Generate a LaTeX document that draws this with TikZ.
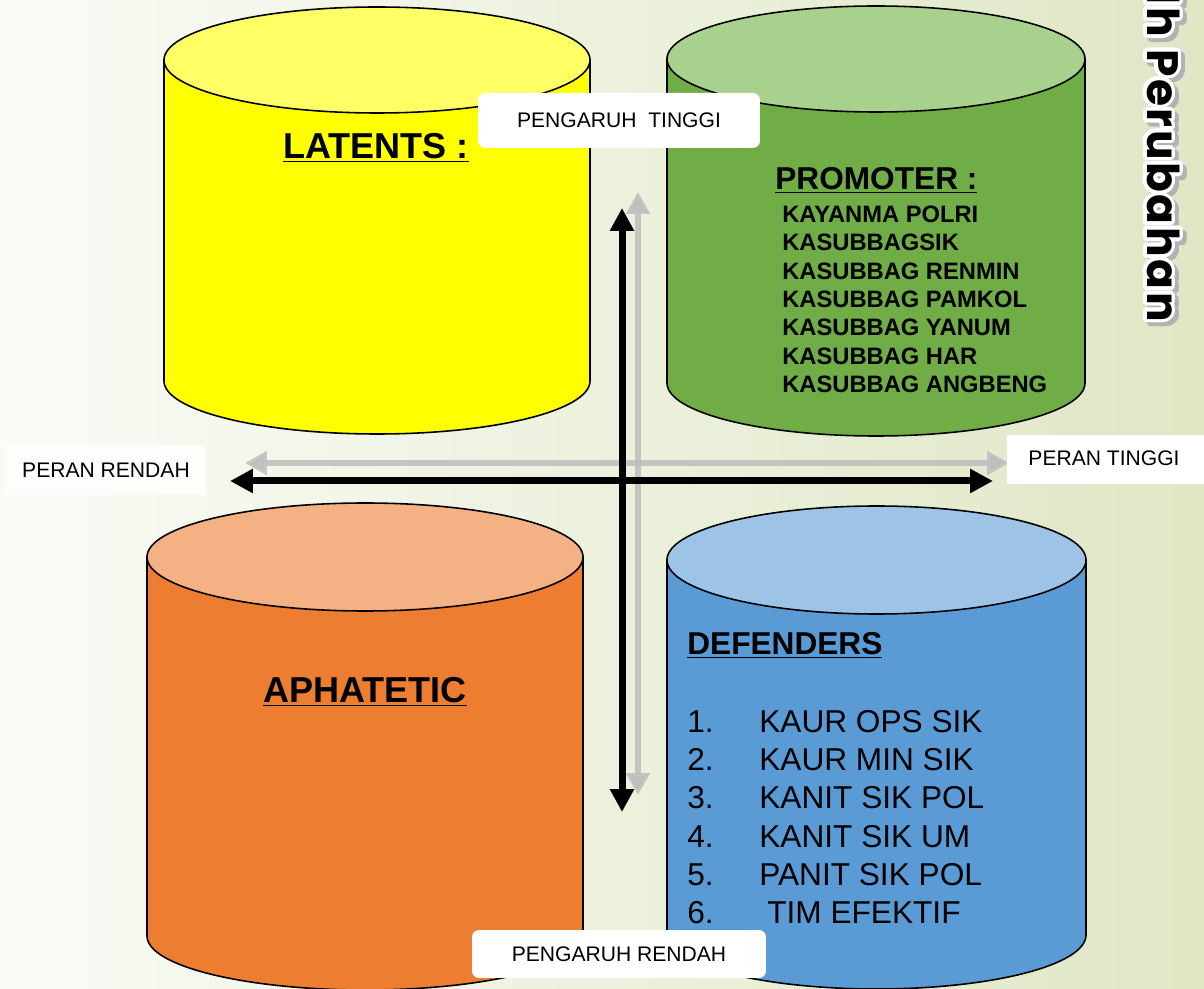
\documentclass[tikz,border=0pt]{standalone}
\usepackage{fontspec}
\usepackage{contour}
\setmainfont{Liberation Sans}
\newfontfamily\judulfont[LetterSpace=6.0]{Poppins}
\contourlength{2.2pt}
\usetikzlibrary{arrows.meta}

\definecolor{latarkiri}{HTML}{FAFBF6}
\definecolor{latarkanan}{HTML}{DFE7C5}
\definecolor{kuning}{HTML}{FFFF00}
\definecolor{kuningatas}{HTML}{FFFF66}
\definecolor{hijau}{HTML}{70AD47}
\definecolor{hijauatas}{HTML}{A9D18E}
\definecolor{oranye}{HTML}{ED7D31}
\definecolor{oranyeatas}{HTML}{F4B183}
\definecolor{biru}{HTML}{5B9BD5}
\definecolor{biruatas}{HTML}{9DC3E6}
\definecolor{abupanah}{HTML}{BDBDBD}

% tabung: x kiri, x kanan, y pusat atas, y pusat bawah, jari-jari y, warna badan, warna tutup
\newcommand{\tabung}[7]{%
  \draw[line width=0.9pt, fill=#6] (#1,#3) -- (#1,#4)
    arc[start angle=180, end angle=0, x radius={(#2-#1)/2}, y radius=#5] -- (#2,#3) -- cycle;
  \draw[line width=0.9pt, fill=#7] ({(#1+#2)/2},#3) ellipse[x radius={(#2-#1)/2}, y radius=#5];
}

\tikzset{
  judul/.style={font=\bfseries\fontsize{20.5}{24}\selectfont, inner sep=0pt},
  butir/.style={font=\bfseries\fontsize{13.5}{16}\selectfont, inner sep=0pt, anchor=base west},
  daftar/.style={font=\fontsize{18}{21}\selectfont, inner sep=0pt, anchor=base west},
  kotak/.style={fill=white, rounded corners=0.14cm, font=\fontsize{12}{14}\selectfont},
  samping/.style={rotate=-90, anchor=base east, inner sep=0pt, font=\judulfont\bfseries\fontsize{25}{28}\selectfont},
  panahhitam/.style={line width=0.14cm, {Triangle[width=0.46cm,length=0.46cm]}-{Triangle[width=0.46cm,length=0.46cm]}},
  panahabu/.style={line width=0.12cm, abupanah, opacity=0.85, {Triangle[width=0.46cm,length=0.44cm]}-{Triangle[width=0.46cm,length=0.44cm]}}
}

\begin{document}
\begin{tikzpicture}[x=0.02cm, y=-0.02cm]
    \useasboundingbox (0,0) rectangle (1204,989);
    \clip (0,0) rectangle (1204,989);
    \shade[left color=latarkiri, right color=latarkanan] (0,0) rectangle (1204,989);

    % Tabung
    \tabung{164}{590}{60}{381}{53}{kuning}{kuningatas}
    \tabung{667}{1085}{59}{383}{53}{hijau}{hijauatas}
    \tabung{147}{583}{557}{936}{54}{oranye}{oranyeatas}
    \tabung{667}{1086}{560}{935}{54}{biru}{biruatas}

    % Isi tabung
    \node[judul, anchor=base] (latents) at (376,159) {\underline{LATENTS :}};

    \node[judul, font=\bfseries\fontsize{18}{21}\selectfont, anchor=base west] (promoter) at (775,190) {\underline{PROMOTER :}};
    \node[butir] (p1) at (782,223) {KAYANMA POLRI};
    \node[butir] (p2) at (782,251) {KASUBBAGSIK};
    \node[butir] (p3) at (782,280) {KASUBBAG RENMIN};
    \node[butir] (p4) at (782,308) {KASUBBAG PAMKOL};
    \node[butir] (p5) at (782,336) {KASUBBAG YANUM};
    \node[butir] (p6) at (782,365) {KASUBBAG HAR};
    \node[butir] (p7) at (782,393) {KASUBBAG ANGBENG};

    \node[judul, anchor=base] (aphatetic) at (365,703) {\underline{APHATETIC}};

    \node[judul, font=\bfseries\fontsize{18}{21}\selectfont, anchor=base west] (defenders) at (687,655) {\underline{DEFENDERS}};
    \node[daftar] (d1) at (687,732) {\makebox[1.44cm][l]{1.}KAUR OPS SIK};
    \node[daftar] (d2) at (687,770) {\makebox[1.44cm][l]{2.}KAUR MIN SIK};
    \node[daftar] (d3) at (687,808) {\makebox[1.44cm][l]{3.}KANIT SIK POL};
    \node[daftar] (d4) at (687,847) {\makebox[1.44cm][l]{4.}KANIT SIK UM};
    \node[daftar] (d5) at (687,885) {\makebox[1.44cm][l]{5.}PANIT SIK POL};
    \node[daftar] (d6) at (687,923) {\makebox[1.6cm][l]{6.}TIM EFEKTIF};

    % Sumbu
    \coordinate (atasabu) at (638,192);
    \coordinate (bawahabu) at (638,795);
    \coordinate (kiriabu) at (245,463);
    \coordinate (kananabu) at (1009,463);
    \coordinate (atas) at (622,208);
    \coordinate (bawah) at (622,812);
    \coordinate (kiri) at (230,481);
    \coordinate (kanan) at (993,481);
    \draw[panahabu] (kiriabu) -- (kananabu);
    \draw[panahabu] (bawahabu) -- (atasabu);
    \draw[panahhitam] (bawah) -- (atas);
    \draw[panahhitam] (kiri) -- (kanan);

    % Label sumbu
    \node[kotak, minimum width=5.64cm, minimum height=1.1cm] (tinggi) at (619,120.5) {PENGARUH\ \ TINGGI};
    \node[kotak, minimum width=5.88cm, minimum height=0.96cm] (rendah) at (619,954) {PENGARUH RENDAH};
    \node[kotak, rounded corners=0pt, minimum width=4.1cm, minimum height=0.98cm] (perantinggi) at (1109,459.5) {};
    \node[font=\fontsize{12}{14}\selectfont] at (1104,458) {PERAN TINGGI};
    \node[kotak, fill=white!60!latarkiri, rounded corners=0pt, minimum width=4.0cm, minimum height=1cm] (peranrendah) at (106,470) {PERAN RENDAH};

    % Judul samping
    \node[samping, black!30] at (1151,326) {\contour{black!30}{lh Perubahan}};
    \node[samping] (samping) at (1147,322) {\contour{white}{lh Perubahan}};
\end{tikzpicture}
\end{document}
